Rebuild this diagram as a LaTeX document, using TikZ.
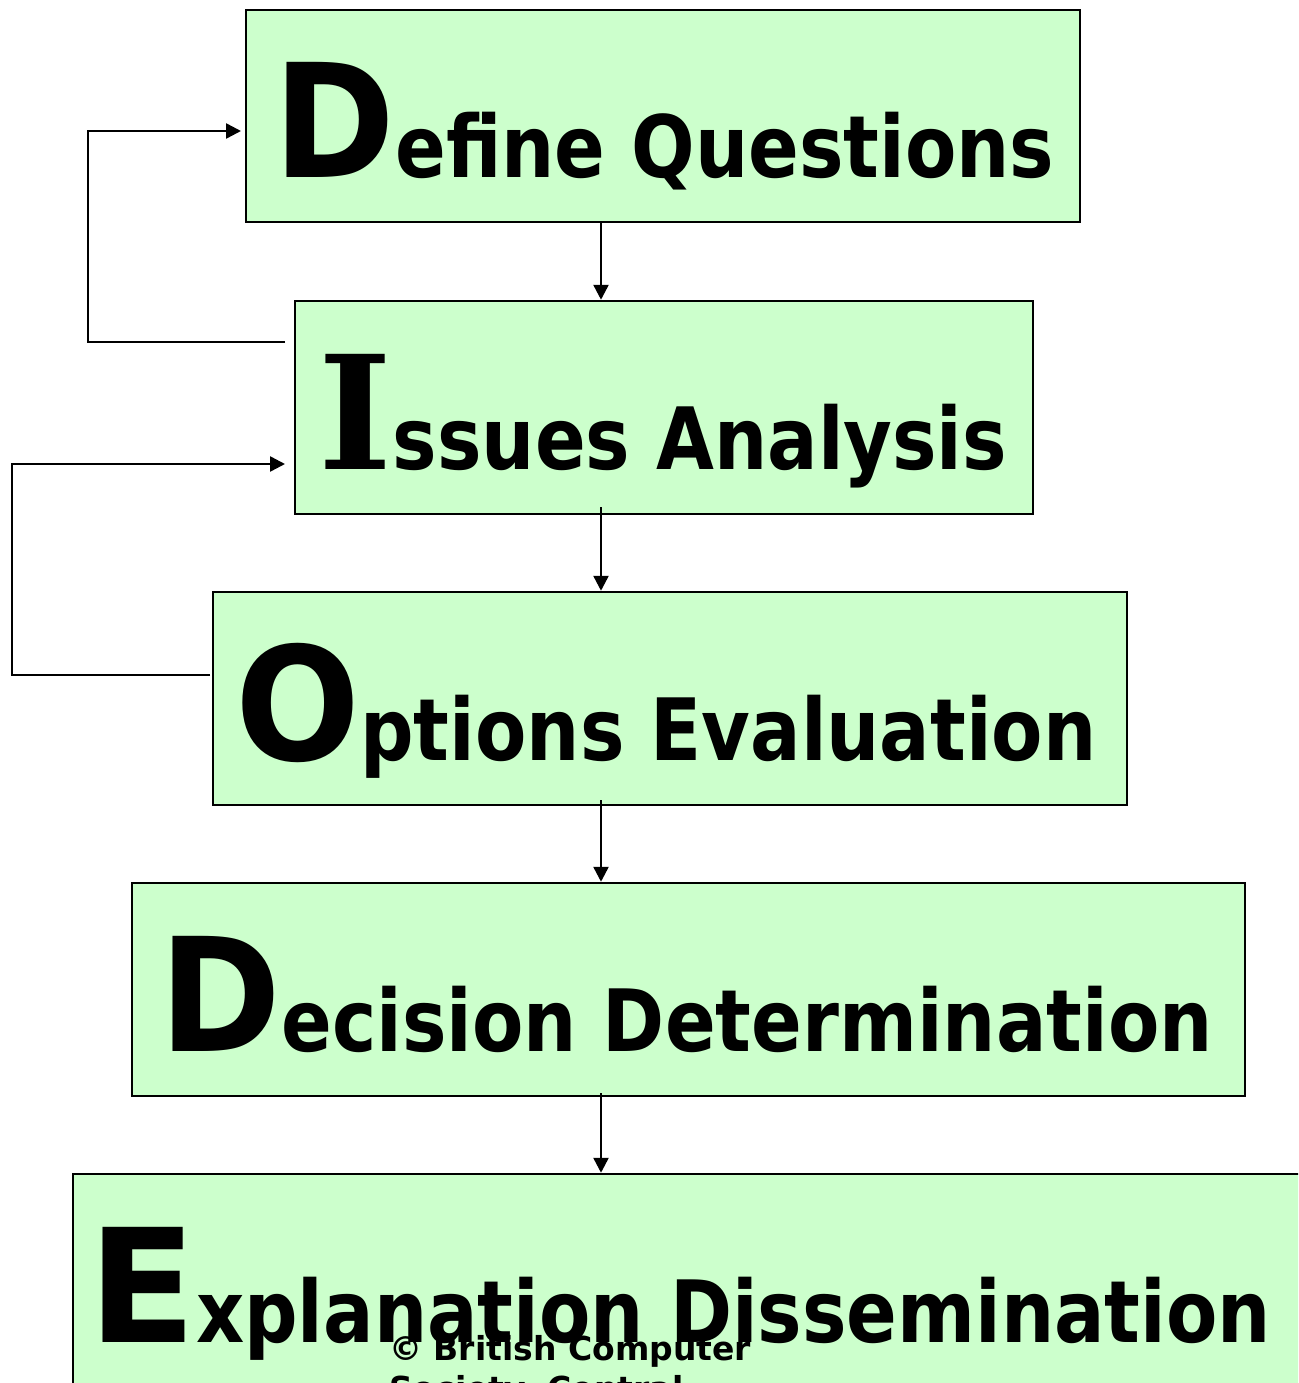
\documentclass[tikz,border=0pt]{standalone}
\usepackage{fontspec}
\usetikzlibrary{arrows.meta}
\newfontfamily\bigletterf[FakeStretch=0.93]{DejaVu Sans Bold}
\newfontfamily\bigletterEf{DejaVu Sans Bold}
\newfontfamily\bigseriff{DejaVu Serif Bold}
\newfontfamily\smalltextf[FakeStretch=0.87]{DejaVu Sans Bold}
\newfontfamily\copyrightf{DejaVu Sans Bold}
\definecolor{boxgreen}{HTML}{CCFFCC}
\newcommand\bigL[1]{{\fontsize{158}{160}\selectfont\bigletterf #1}}
\newcommand\bigE[1]{{\fontsize{158}{160}\selectfont\bigletterEf #1}}
\newcommand\bigI[1]{{\fontsize{158}{160}\selectfont\bigseriff #1}}
\newcommand\smallT[1]{{\fontsize{86}{96}\selectfont\smalltextf #1}}
\begin{document}
\begin{tikzpicture}[x=1pt,y=-1pt,
  box/.style={draw=black, line width=2.5pt, fill=boxgreen, inner sep=0pt},
  lbl/.style={anchor=base, inner sep=0pt},
  arr/.style={line width=2.5pt, -{Triangle[length=15pt,width=15pt]}},
  cpy/.style={anchor=base west, inner sep=0pt, font=\fontsize{33}{41}\selectfont\copyrightf}]
\useasboundingbox (0,0) rectangle (1298,1383);
\clip (0,0) rectangle (1298,1383);
\fill[white] (0,0) rectangle (1298,1383);
% boxes
\node[box, minimum width=834pt, minimum height=212pt] (q) at (663,116) {};
\node[box, minimum width=738pt, minimum height=213pt] (ia) at (664,407.5) {};
\node[box, minimum width=914pt, minimum height=213pt] (oe) at (670,698.5) {};
\node[box, minimum width=1113pt, minimum height=213pt] (dd) at (688.5,989.5) {};
\node[box, minimum width=1247pt, minimum height=213pt] (ed) at (696.5,1280.5) {};
% texts
\node[lbl] (tq) at (664,178) {\bigL{D}\smallT{efine Questions}};
\node[lbl] (tia) at (663,469) {\bigI{I}\smallT{ssues Analysis}};
\node[lbl] (toe) at (666,760) {\bigL{O}\smallT{ptions Evaluation}};
\node[lbl] (tdd) at (686,1051) {\bigL{D}\smallT{ecision Determination}};
\node[lbl, anchor=base west] (ted) at (88,1342) {\bigE{E}\smallT{xplanation Dissemination}};
% arrows down
\coordinate (ax) at (601,0);
\draw[arr] (q.south -| ax) -- (ia.north -| ax);
\draw[arr] ([yshift=8pt]ia.south -| ax) -- (oe.north -| ax);
\draw[arr] ([yshift=6pt]oe.south -| ax) -- (dd.north -| ax);
\draw[arr] ([yshift=4pt]dd.south -| ax) -- (ed.north -| ax);
% feedback loops
\coordinate (f1a) at (285,342);
\coordinate (f1b) at (241,131);
\coordinate (f2a) at (210,675);
\coordinate (f2b) at (285,464);
\draw[arr] (f1a) -- (88,342) |- (f1b);
\draw[arr] (f2a) -- (12,675) |- (f2b);
% copyright
\node[cpy] (c1) at (389,1360) {© British Computer};
\node[cpy] (c2) at (389,1400) {Society, Central};
\end{tikzpicture}
\end{document}
